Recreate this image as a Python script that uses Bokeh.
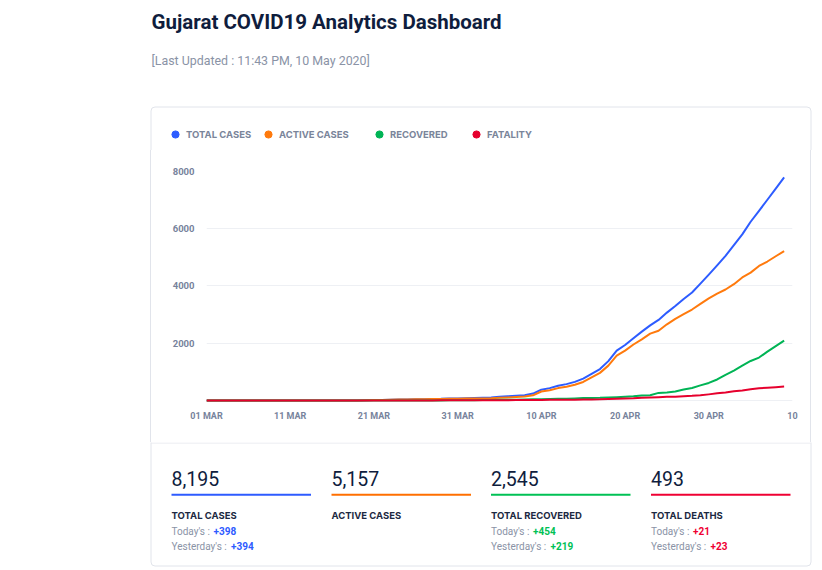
from bokeh.plotting import figure
from bokeh.layouts import column, row
from bokeh.models import (Range1d, FixedTicker, Label, BoxAnnotation, Legend,
                          LegendItem, ColumnDataSource, Div)
from bokeh.embed import file_html
from bokeh.resources import INLINE

# ---------------- data ----------------
day_index = list(range(70))  # 0 = 01 Mar 2020 ... 69 = 09 May 2020

total_cases = [0] * 18 + [
    2, 5, 13, 18, 30, 33, 38, 43, 45, 55, 58, 69, 74, 82, 87, 95, 108, 128,
    144, 165, 186, 241, 378, 432, 516, 572, 650, 766, 930, 1099, 1376, 1743,
    1939, 2178, 2407, 2624, 2815, 3071, 3301, 3548, 3774, 4082, 4395, 4721,
    5054, 5428, 5804, 6245, 6625, 7013, 7403, 7797]

active_cases = [0] * 18 + [
    2, 5, 13, 17, 29, 32, 36, 40, 41, 50, 50, 58, 63, 71, 70, 73, 77, 92,
    107, 126, 137, 180, 315, 356, 433, 482, 549, 647, 806, 965, 1218, 1564,
    1741, 1956, 2137, 2335, 2438, 2662, 2854, 3016, 3178, 3374, 3568, 3736,
    3878, 4063, 4300, 4468, 4700, 4855, 5039, 5221]

recovered = [0] * 26 + [
    1, 1, 3, 5, 5, 5, 10, 14, 21, 25, 25, 26, 33, 44, 44, 54, 59, 64, 73, 86,
    88, 93, 105, 116, 131, 145, 175, 186, 265, 282, 314, 381, 434, 527, 613,
    735, 896, 1046, 1219, 1381, 1500, 1709, 1898, 2091]

fatality = [0] * 21 + [
    1, 1, 1, 2, 3, 3, 4, 5, 6, 6, 6, 7, 8, 10, 11, 12, 13, 16, 17, 19, 22, 24,
    26, 28, 33, 36, 41, 53, 63, 67, 77, 95, 103, 112, 127, 133, 151, 162, 181,
    214, 250, 280, 319, 349, 396, 425, 449, 466, 485]

for arr in (total_cases, active_cases, recovered, fatality):
    assert len(arr) == len(day_index)

x_tick_days = [0, 10, 20, 30, 40, 50, 60, 70]
x_tick_labels = ["01 MAR", "11 MAR", "21 MAR", "31 MAR", "10 APR", "20 APR", "30 APR", "10"]
y_ticks = [0, 2000, 4000, 6000, 8000]
y_tick_labels = ["", "2000", "4000", "6000", "8000"]

series_names = ["TOTAL CASES", "ACTIVE CASES", "RECOVERED", "FATALITY"]
series_values = [total_cases, active_cases, recovered, fatality]
series_colors = ["#2d5cff", "#ff7a0d", "#00b455", "#e6002d"]

title_text = "Gujarat COVID19 Analytics Dashboard"
updated_text = "[Last Updated : 11:43 PM, 10 May 2020]"

stat_values = ["8,195", "5,157", "2,545", "493"]
stat_titles = ["TOTAL CASES", "ACTIVE CASES", "TOTAL RECOVERED", "TOTAL DEATHS"]
stat_today = ["+398", None, "+454", "+21"]
stat_yesterday = ["+394", None, "+219", "+23"]
stat_colors = ["#2e5bff", "#ff6f00", "#00c155", "#ef0033"]

# ---------------- layout (page pixels) ----------------
W, H = 822, 570
CARD_L, CARD_R, CARD_T, CARD_B = 150.5, 810.5, 106.5, 565.5
HEAD_H = 150           # header strip: y 0..150
SEP_Y = 442            # stats strip: y 442..570
CHART_X0, CHART_X1 = 151, 810
FL, FR, FT, FB = 206, 792, 171, 403   # plot frame, page pixels

DARK = "#0f1d3d"
GRAY = "#8a93a6"
AXIS_GRAY = "#77839c"
BORDER = "#e1e4eb"


def canvas_fig(w, h):
    f = figure(width=w, height=h, x_range=Range1d(0, w), y_range=Range1d(0, h),
               output_backend="svg", toolbar_location=None,
               x_axis_location=None, y_axis_location=None,
               min_border=0, min_border_left=0, min_border_right=0,
               min_border_top=0, min_border_bottom=0,
               background_fill_color="white", border_fill_color="white",
               outline_line_color=None)
    f.title.visible = False
    f.grid.visible = False
    return f


def add_text(f, h, x, y, text, size, color, style="normal", font="Roboto"):
    f.add_layout(Label(x=x, y=h - y, text=text, text_font=font,
                       text_font_size=size, text_font_style=style,
                       text_color=color, text_align="left",
                       text_baseline="alphabetic"))


def add_box(f, h, left, right, top, bottom, **kw):
    f.add_layout(BoxAnnotation(left=left, right=right, top=h - top,
                               bottom=h - bottom, **kw))


# ---------- header ----------
head = canvas_fig(W, HEAD_H)
add_text(head, HEAD_H, 151, 21, title_text, "20.5px", DARK, "bold")
add_text(head, HEAD_H, 151, 60, updated_text, "12.4px", GRAY)
add_box(head, HEAD_H, CARD_L, CARD_R, CARD_T, HEAD_H + 40,
        fill_alpha=0, line_color=BORDER, line_alpha=1, line_width=1,
        border_radius=4)

legend_dot_x = [175, 268, 379, 476]
for name, col, dx in zip(series_names, series_colors, legend_dot_x):
    # placeholder point outside the visible range: only its legend swatch shows
    r = head.scatter(x=[-100], y=[-100], marker="circle", size=7,
                     fill_color=col, line_color=col)
    lg = Legend(items=[LegendItem(label=name, renderers=[r])],
                location=(dx - 9, HEAD_H - 143), orientation="horizontal",
                glyph_width=18, glyph_height=18, label_height=18,
                label_standoff=2, padding=0, margin=0, spacing=0,
                border_line_color=None, background_fill_alpha=0,
                label_text_font="Inter", label_text_font_style="bold",
                label_text_font_size="9.5px", label_text_color="#7a859a")
    head.add_layout(lg)

# ---------- side strips (card borders, plain HTML boxes) ----------
mid_h = SEP_Y - HEAD_H
left_strip = Div(text="", width=CHART_X0, height=mid_h, margin=0,
                 styles={"box-sizing": "border-box",
                         "border-right": "1px solid " + BORDER,
                         "background-color": "white"})
right_strip = Div(text="", width=W - CHART_X1, height=mid_h, margin=0,
                  styles={"box-sizing": "border-box",
                          "border-left": "1px solid " + BORDER,
                          "background-color": "white"})

# ---------- chart ----------
p = figure(width=CHART_X1 - CHART_X0, height=mid_h, output_backend="svg",
           toolbar_location=None,
           x_range=Range1d(0, 70), y_range=Range1d(-105, 8000),
           min_border_left=FL - CHART_X0, min_border_right=CHART_X1 - FR,
           min_border_top=FT - HEAD_H, min_border_bottom=SEP_Y - FB,
           background_fill_color="white", border_fill_color="white",
           outline_line_color=None)
p.title.visible = False

xa = p.xaxis[0]
xa.ticker = FixedTicker(ticks=x_tick_days)
xa.major_label_overrides = {d: l for d, l in zip(x_tick_days, x_tick_labels)}
ya = p.yaxis[0]
ya.ticker = FixedTicker(ticks=y_ticks)
ya.major_label_overrides = {t: l for t, l in zip(y_ticks, y_tick_labels)}
for ax in (xa, ya):
    ax.axis_line_color = None
    ax.major_tick_line_color = None
    ax.minor_tick_line_color = None
    ax.major_tick_out = 0
    ax.major_tick_in = 0
    ax.minor_tick_out = 0
    ax.minor_tick_in = 0
    ax.major_label_text_font = "Roboto"
    ax.major_label_text_font_style = "bold"
    ax.major_label_text_font_size = "9px"
    ax.major_label_text_color = AXIS_GRAY
xa.major_label_standoff = 7
ya.major_label_standoff = 12
ya.major_label_text_font_size = "9.5px"

p.xgrid.grid_line_color = None
p.ygrid.ticker = FixedTicker(ticks=y_ticks)
p.ygrid.grid_line_color = "#eef0f4"
p.ygrid.grid_line_width = 1

for name, vals, col in zip(series_names, series_values, series_colors):
    src = ColumnDataSource(dict(x=day_index, y=vals))
    p.line("x", "y", source=src, line_color=col, line_width=2,
           line_join="round")

# ---------- stats ----------
st_h = H - SEP_Y
stats = canvas_fig(W, st_h)
add_box(stats, st_h, CARD_L, CARD_R, -40, CARD_B - SEP_Y,
        fill_alpha=0, line_color=BORDER, line_alpha=1, line_width=1,
        border_radius=4)
add_box(stats, st_h, CARD_L, CARD_R, 0, 1,
        fill_color="#e6e8ee", fill_alpha=1, line_color=None)

stat_x = [171, 331, 490.5, 650.5]
for i, x in enumerate(stat_x):
    add_text(stats, st_h, x, 477.7 - SEP_Y, stat_values[i], "19.5px", DARK)
    add_box(stats, st_h, x, x + 139.5, 493.3 - SEP_Y, 495.3 - SEP_Y,
            fill_color=stat_colors[i], fill_alpha=1, line_color=None)
    add_text(stats, st_h, x, 515 - SEP_Y, stat_titles[i], "9.5px", "#1c2942",
             "bold", font="Inter")
    if stat_today[i] is not None:
        add_text(stats, st_h, x, 530.7 - SEP_Y, "Today's :", "10px", GRAY)
        add_text(stats, st_h, x + 42, 530.7 - SEP_Y, stat_today[i], "10px",
                 stat_colors[i], "bold")
        add_text(stats, st_h, x, 545.7 - SEP_Y, "Yesterday's :", "10px", GRAY)
        add_text(stats, st_h, x + 59.5, 545.7 - SEP_Y, stat_yesterday[i], "10px",
                 stat_colors[i], "bold")

page = column(head, row(left_strip, p, right_strip), stats)
open("out.html", "w").write(file_html(page, INLINE))
